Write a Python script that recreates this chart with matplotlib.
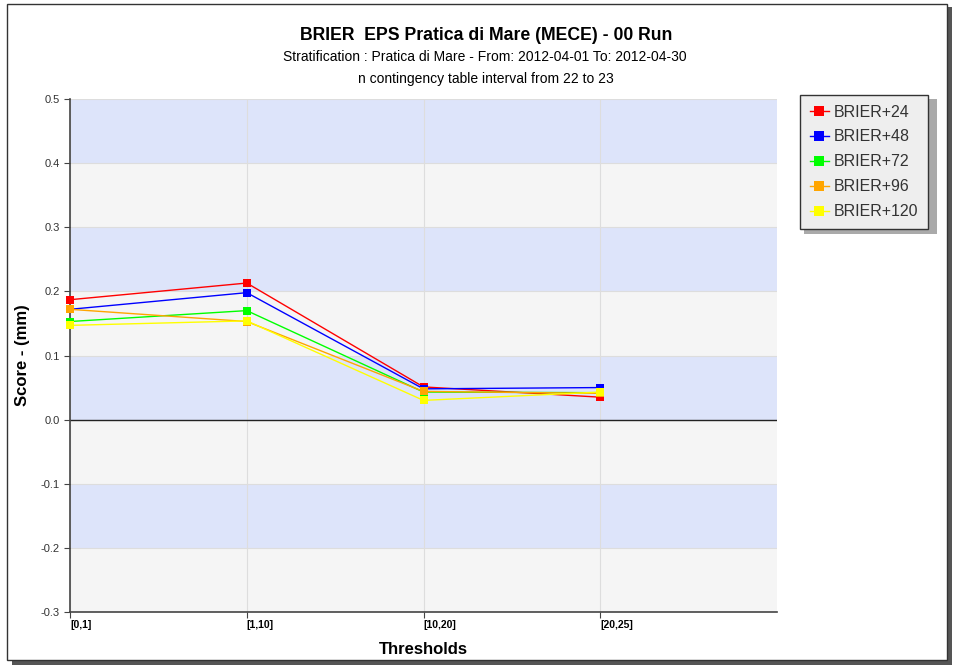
import matplotlib
matplotlib.use("Agg")
import matplotlib.pyplot as plt
from matplotlib.patches import Rectangle

plt.rcParams['font.family'] = ['Liberation Sans', 'DejaVu Sans']

categories = ["[0,1]", "[1,10]", "[10,20]", "[20,25]"]
series_names = ["BRIER+24", "BRIER+48", "BRIER+72", "BRIER+96", "BRIER+120"]
brier_24 = [0.187, 0.213, 0.051, 0.035]
brier_48 = [0.172, 0.198, 0.048, 0.050]
brier_72 = [0.153, 0.170, 0.043, 0.042]
brier_96 = [0.172, 0.153, 0.044, 0.041]
brier_120 = [0.147, 0.154, 0.030, 0.043]
series_values = [brier_24, brier_48, brier_72, brier_96, brier_120]
colors = ["#ff0000", "#0000ff", "#00ff00", "#ffa500", "#ffff00"]
y_ticks = [0.5, 0.4, 0.3, 0.2, 0.1, 0.0, -0.1, -0.2, -0.3]

W, H = 955, 667
fig = plt.figure(figsize=(W / 100, H / 100), dpi=100)
fig.patch.set_facecolor("white")

# outer frame with shadow
fig.patches.append(Rectangle((12 / W, 1 - 665 / H), 940 / W, 658 / H, transform=fig.transFigure,
                             facecolor="#555555", edgecolor="none", zorder=-3))
fig.patches.append(Rectangle((7 / W, 1 - 660 / H), 940 / W, 656 / H, transform=fig.transFigure,
                             facecolor="white", edgecolor="#333333", linewidth=1.0, zorder=-2))
# legend shadow
fig.patches.append(Rectangle((804 / W, 1 - 234 / H), 133 / W, 135 / H, transform=fig.transFigure,
                             facecolor="#aaaaaa", edgecolor="none", zorder=-1))

ax = fig.add_axes([70 / W, 1 - 612 / H, 707 / W, 513 / H])
ax.set_zorder(1)
ax.set_xlim(0, len(categories))
ax.set_ylim(-0.3, 0.5)
ax.set_facecolor("#f5f5f5")

# alternating bands
for i in range(len(y_ticks) - 1):
    top = y_ticks[i]
    bot = y_ticks[i + 1]
    if i % 2 == 0:
        ax.axhspan(bot, top, facecolor="#dde4fa", edgecolor="none", zorder=0)
for y in y_ticks:
    ax.axhline(y, color="#dddddd", linewidth=0.8, zorder=0.5)
for x in range(len(categories)):
    ax.axvline(x, color="#dddddd", linewidth=0.8, zorder=0.5)
ax.axhline(0, color="#222222", linewidth=1.0, zorder=1)

xs = list(range(len(categories)))
for name, vals, c in zip(series_names, series_values, colors):
    ax.plot(xs, vals, color=c, linewidth=1.0, marker="s", markersize=5.2,
            markeredgewidth=0, label=name, zorder=3, clip_on=False)

ax.set_yticks(y_ticks)
ax.set_yticklabels([f"{v:.1f}" for v in y_ticks], fontsize=8, color="#333333")
ax.set_xticks(xs)
ax.set_xticklabels(categories, fontsize=7.5, fontweight="bold", ha="left")
ax.tick_params(axis="both", length=4, width=0.8, color="#444444")
ax.tick_params(axis="x", pad=2)
for s in ["top", "right"]:
    ax.spines[s].set_visible(False)
for s in ["left", "bottom"]:
    ax.spines[s].set_color("#444444")
    ax.spines[s].set_linewidth(1.2)

fig.text(22 / W, 1 - 355 / H, "Score - (mm)", rotation=90, ha="center", va="center",
         fontsize=12, fontweight="bold")
fig.text(423 / W, 1 - 649 / H, "Thresholds", ha="center", va="center",
         fontsize=12, fontweight="bold")

fig.text(486 / W, 1 - 36 / H, "BRIER  EPS Pratica di Mare (MECE) - 00 Run", ha="center", va="center",
         fontsize=12.7, fontweight="bold")
fig.text(485 / W, 1 - 57 / H, "Stratification : Pratica di Mare - From: 2012-04-01 To: 2012-04-30",
         ha="center", va="center", fontsize=10)
fig.text(486 / W, 1 - 79 / H, "n contingency table interval from 22 to 23", ha="center", va="center",
         fontsize=10)

leg = fig.legend(loc="upper left", bbox_to_anchor=(800 / W, 1 - 95 / H), fontsize=11.5,
                 frameon=True, fancybox=False, handlelength=1.2, handletextpad=0.3,
                 borderaxespad=0, borderpad=0.6, labelspacing=0.62, markerscale=1.4)
leg.get_frame().set_facecolor("#eeeeee")
leg.get_frame().set_edgecolor("#333333")
leg.get_frame().set_alpha(1)
leg.get_frame().set_linewidth(1.0)
for t in leg.get_texts():
    t.set_color("#333333")

fig.savefig("out.png", dpi=100)
